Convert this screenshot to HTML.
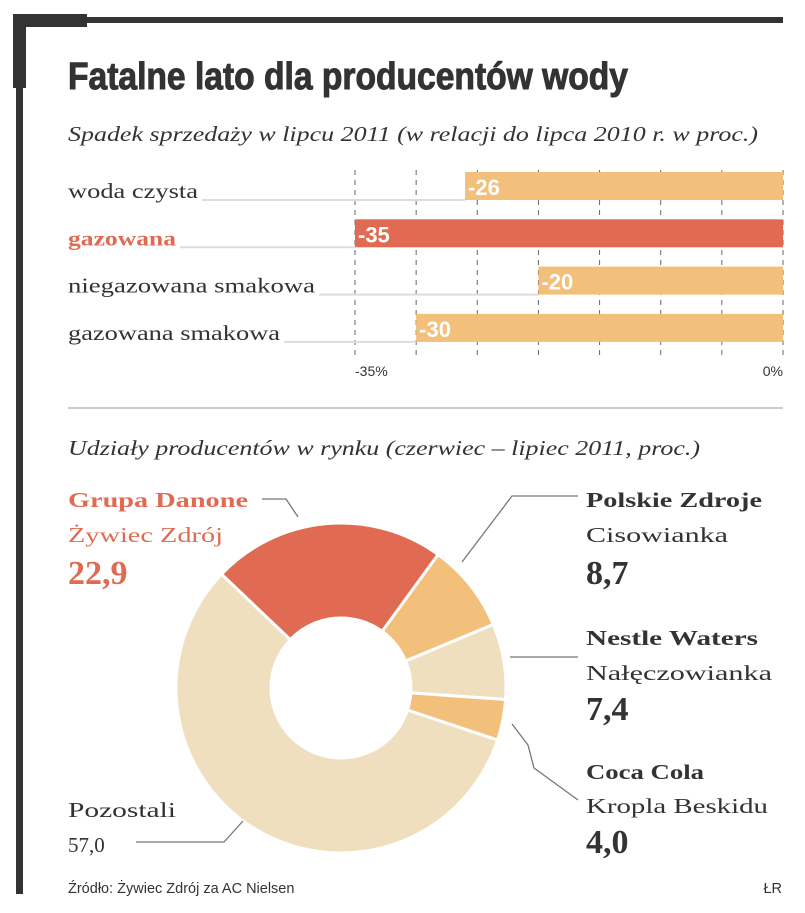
<!DOCTYPE html>
<html><head><meta charset="utf-8"><style>
html,body{margin:0;padding:0;background:#fff}
svg{display:block}
.ser{font-family:"Liberation Serif","Noto Serif CJK SC",serif}
.san{font-family:"Liberation Sans",sans-serif}
</style></head><body>
<svg id="chart" width="805" height="913" viewBox="0 0 805 913" xmlns="http://www.w3.org/2000/svg">
<g fill="#333">
<rect x="13" y="14" width="74" height="13"/>
<rect x="13" y="17" width="770" height="6"/>
<rect x="13" y="14" width="13" height="74"/>
<rect x="16" y="14" width="7" height="880"/>
</g>
<text x="68" y="89" class="san" font-weight="bold" font-size="38" fill="#333" stroke="#333" stroke-width="1" textLength="560" lengthAdjust="spacingAndGlyphs">Fatalne lato dla producentów wody</text>
<text x="68" y="141" class="ser" font-style="italic" font-size="21" fill="#333" textLength="690" lengthAdjust="spacingAndGlyphs">Spadek sprzedaży w lipcu 2011 (w relacji do lipca 2010 r. w proc.)</text>
<g id="bars"></g>
<line x1="68" y1="408" x2="783" y2="408" stroke="#ccc" stroke-width="2"/>
<text x="68" y="455" class="ser" font-style="italic" font-size="21" fill="#333" textLength="632" lengthAdjust="spacingAndGlyphs">Udziały producentów w rynku (czerwiec – lipiec 2011, proc.)</text>
<g id="donut"></g>
<g class="ser" fill="#333">
<text x="68" y="507" font-size="21" font-weight="bold" fill="#e06b52" textLength="180" lengthAdjust="spacingAndGlyphs">Grupa Danone</text>
<text x="68" y="542" font-size="21" fill="#e06b52" textLength="155" lengthAdjust="spacingAndGlyphs">Żywiec Zdrój</text>
<text x="68" y="584" font-size="34" font-weight="bold" fill="#e06b52">22,9</text>
<text x="586" y="507" font-size="21" font-weight="bold" textLength="176" lengthAdjust="spacingAndGlyphs">Polskie Zdroje</text>
<text x="586" y="542" font-size="21" textLength="142" lengthAdjust="spacingAndGlyphs">Cisowianka</text>
<text x="586" y="584" font-size="34" font-weight="bold">8,7</text>
<text x="586" y="645" font-size="21" font-weight="bold" textLength="172" lengthAdjust="spacingAndGlyphs">Nestle Waters</text>
<text x="586" y="680" font-size="21" textLength="186" lengthAdjust="spacingAndGlyphs">Nałęczowianka</text>
<text x="586" y="720" font-size="34" font-weight="bold">7,4</text>
<text x="586" y="779" font-size="21" font-weight="bold" textLength="118" lengthAdjust="spacingAndGlyphs">Coca Cola</text>
<text x="586" y="813" font-size="21" textLength="182" lengthAdjust="spacingAndGlyphs">Kropla Beskidu</text>
<text x="586" y="853" font-size="34" font-weight="bold">4,0</text>
<text x="68" y="817" font-size="21" textLength="108" lengthAdjust="spacingAndGlyphs">Pozostali</text>
<text x="68" y="852" font-size="21">57,0</text>
</g>
<g fill="none" stroke="#777" stroke-width="1.3">
<polyline points="262,499 286,499 298,517"/>
<polyline points="578,496 512,496 462,562"/>
<polyline points="578,657 510,657"/>
<polyline points="578,800 534,768 528,745 512,724"/>
<polyline points="136,842 224,842 243,821"/>
</g>
<text x="68" y="893" class="san" font-size="14.5" fill="#333">Źródło: Żywiec Zdrój za AC Nielsen</text>
<text x="782" y="893" class="san" font-size="14.5" fill="#333" text-anchor="end">ŁR</text>
</svg>
<script>
const barCategories = ["woda czysta","gazowana","niegazowana smakowa","gazowana smakowa"];
const barValues = [-26,-35,-20,-30];
const barHighlight = [false,true,false,false];
const axisTicks = [-35,-30,-25,-20,-15,-10,-5,0];
const axisTickLabels = ["-35%","0%"];
const axisTickLabelValues = [-35,0];
const donutNames = ["Grupa Danone","Polskie Zdroje","Nestle Waters","Coca Cola","Pozostali"];
const donutValues = [22.9,8.7,7.4,4.0,57.0];
const donutColors = ["#e06b52","#f2c07a","#efdfbe","#f2c07a","#efdfbe"];

const NS="http://www.w3.org/2000/svg";
function mk(t,a,p){const e=document.createElementNS(NS,t);for(const k in a)e.setAttribute(k,a[k]);p.appendChild(e);return e;}
const x0=355,x1=783,vmin=-35,vmax=0;
const xs=v=>x0+(v-vmin)/(vmax-vmin)*(x1-x0);
const rowTop=i=>172+i*47.3, bh=28;
const bars=document.getElementById('bars');
const labelW=[130,108,247,212];
axisTicks.forEach(t=>{
 const l=mk('line',{x1:xs(t),x2:xs(t),y1:170,y2:358,stroke:'#666','stroke-width':1,'stroke-dasharray':'5,5'},bars);
 
 
});
barCategories.forEach((c,i)=>{
 const y=rowTop(i);
 const u=mk('line',{x1:68+labelW[i]+4,x2:xs(barValues[i]),y1:y+bh,y2:y+bh,stroke:'#ddd','stroke-width':2},bars);
 
 
 const r=mk('rect',{x:xs(barValues[i]),y:y,width:xs(0)-xs(barValues[i]),height:bh,fill:barHighlight[i]?'#e06b52':'#f2c07a'},bars);
 
 
 const lt=mk('text',{x:68,y:y+bh-2,'font-size':21,fill:barHighlight[i]?'#e06b52':'#333','font-weight':barHighlight[i]?'bold':'normal',class:'ser',textLength:labelW[i],lengthAdjust:'spacingAndGlyphs'},bars);
 lt.textContent=c;
 
 
 const vt=mk('text',{x:xs(barValues[i])+3,y:y+bh-5,'font-size':22,fill:'#fff','font-weight':'bold',class:'san'},bars);
 vt.textContent=String(barValues[i]);
 
 
});
axisTickLabels.forEach((s,i)=>{
 const v=axisTickLabelValues[i];
 const t=mk('text',{x:v===0?x1:xs(v),y:376,'font-size':14,fill:'#333',class:'san','text-anchor':v===0?'end':'start'},bars);
 t.textContent=s;
 
 
});
const donut=document.getElementById('donut');
const cx=341,cy=688,R=165,r0=70;
const total=donutValues.reduce((a,b)=>a+b,0);
let ang=-46.4*Math.PI/180;
const pt=(a,rad)=>[cx+rad*Math.sin(a),cy-rad*Math.cos(a)];
donutValues.forEach((v,i)=>{
 const a2=ang+v/total*2*Math.PI;
 const [x1o,y1o]=pt(ang,R),[x2o,y2o]=pt(a2,R),[x2i,y2i]=pt(a2,r0),[x1i,y1i]=pt(ang,r0);
 const lg=(a2-ang)>Math.PI?1:0;
 const p=mk('path',{d:`M${x1o},${y1o}A${R},${R} 0 ${lg} 1 ${x2o},${y2o}L${x2i},${y2i}A${r0},${r0} 0 ${lg} 0 ${x1i},${y1i}Z`,fill:donutColors[i],stroke:'#fff','stroke-width':3},donut);
 
 
 ang=a2;
});
</script>
</body></html>
